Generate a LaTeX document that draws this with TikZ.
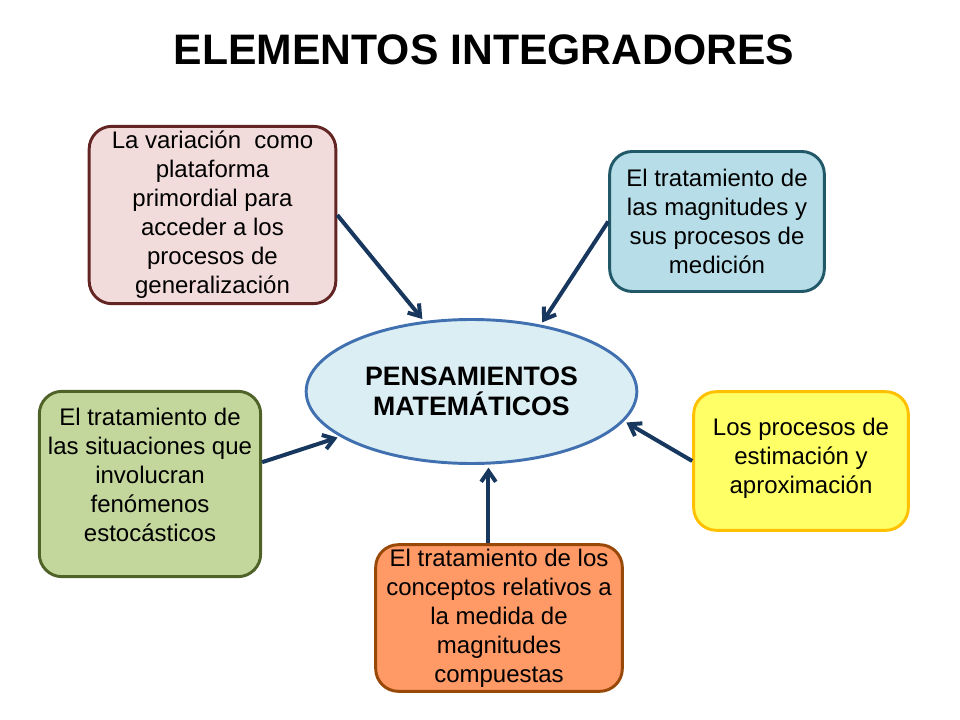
\documentclass[tikz,border=0pt]{standalone}
\usepackage{fontspec}
\setmainfont{Liberation Sans}
\usetikzlibrary{arrows.meta,shapes.geometric}

\definecolor{pinkfill}{HTML}{F2DCDB}
\definecolor{pinkline}{HTML}{632523}
\definecolor{bluefill}{HTML}{B7DEE8}
\definecolor{blueline}{HTML}{215968}
\definecolor{ellfill}{HTML}{DBEEF4}
\definecolor{ellline}{HTML}{4070B0}
\definecolor{greenfill}{HTML}{C3D69B}
\definecolor{greenline}{HTML}{4F6228}
\definecolor{yellowfill}{HTML}{FFFF66}
\definecolor{yellowline}{HTML}{FFC000}
\definecolor{orangefill}{HTML}{FF9966}
\definecolor{orangeline}{HTML}{984807}
\definecolor{arrowblue}{HTML}{17375E}

\begin{document}
\begin{tikzpicture}[x=0.75pt,y=-0.75pt,
  box/.style={draw,rounded corners=17pt,line width=2.2pt,inner sep=0pt,align=center,
    font=\fontsize{18}{21.75}\selectfont},
  conn/.style={color=arrowblue,line width=3pt,-{Straight Barb[length=8pt,width=11pt]},shorten >=2pt}]
\useasboundingbox (0,0) rectangle (960,720);

\node[font=\fontsize{32}{38}\selectfont\bfseries] (title) at (484,50) {ELEMENTOS INTEGRADORES};

  \node[ellipse,draw=ellline,fill=ellfill,line width=2.2pt,inner sep=0pt,minimum width=248pt,minimum height=108pt,
        align=center,font=\fontsize{20}{22.5}\selectfont\bfseries] (ell) at (471.5,391.5) {PENSAMIENTOS\\MATEMÁTICOS};

  \node[box,draw=pinkline,fill=pinkfill,minimum width=185pt,minimum height=133pt] (pink) at (212.5,215)
        {La variación~ como\\plataforma\\primordial para\\acceder a los\\procesos de\\generalización};
  \node[box,draw=blueline,fill=bluefill,minimum width=161pt,minimum height=105pt] (blue) at (717,221.5)
        {El tratamiento de\\las magnitudes y\\sus procesos de\\medición};
  \node[box,draw=greenline,fill=greenfill,minimum width=166pt,minimum height=139pt] (green) at (150,484)
        {El tratamiento de\\las situaciones que\\involucran\\fenómenos\\estocásticos\\[-8.5pt]};
  \node[box,draw=yellowline,fill=yellowfill,minimum width=161pt,minimum height=104pt] (yellow) at (801,461)
        {Los procesos de\\estimación y\\aproximación\\[-14.5pt]};
  \node[box,draw=orangeline,fill=orangefill,minimum width=185pt,minimum height=110pt] (orange) at (499,618)
        {El tratamiento de los\\conceptos relativos a\\la medida de\\magnitudes\\compuestas};

  \path[conn]
        (pink.east)   edge (ell.124)
        (blue.west)   edge (ell.44)
        (green.11)    edge (ell.199)
        (yellow.west) edge (ell.349)
        (orange.98)   edge (orange.98 |- ell.south);
\end{tikzpicture}
\end{document}
